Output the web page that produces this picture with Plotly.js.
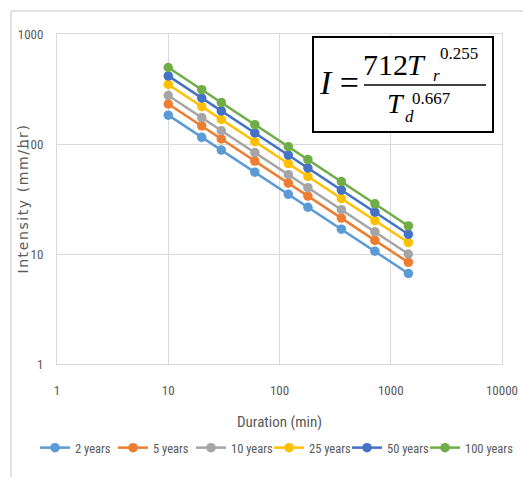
<!DOCTYPE html>
<html>
<head>
<meta charset="utf-8">
<script src="https://cdn.plot.ly/plotly-3.0.1.min.js"></script>
<style>
html,body{margin:0;padding:0;background:#fff}
#chart{width:523px;height:477px}
g.annotation[data-index="0"] text{letter-spacing:1.6px}
.legend .scrollbox{clip-path:none !important}
</style>
</head>
<body>
<div id="chart"></div>
<script>
var durations = [10, 20, 30, 60, 120, 180, 360, 720, 1440];
var seriesNames = ["2 years", "5 years", "10 years", "25 years", "50 years", "100 years"];
var y2 = [183, 115, 88, 55.4, 34.9, 26.6, 16.8, 10.6, 6.65];
var y5 = [231, 146, 111, 69.9, 44.1, 33.6, 21.2, 13.3, 8.4];
var y10 = [276, 174, 132, 83.5, 52.6, 40.1, 25.3, 15.9, 10.0];
var y25 = [348, 219, 167, 105, 66.4, 50.7, 31.9, 20.1, 12.7];
var y50 = [416, 262, 200, 126, 79.3, 60.5, 38.1, 24.0, 15.1];
var y100 = [496, 312, 238, 150, 94.6, 72.2, 45.5, 28.6, 18.0];
var xTickVals = [1, 10, 100, 1000, 10000];
var xTickText = ["1", "10", "100", "1000", "10000"];
var yTickVals = [1, 10, 100, 1000];
var yTickText = ["1", "10", "100", "1000"];

var colors = ["#5B9BD5", "#ED7D31", "#A5A5A5", "#FFC000", "#4472C4", "#70AD47"];
var allY = [y2, y5, y10, y25, y50, y100];
var FONT = "Roboto Condensed, Liberation Sans Narrow, Arial Narrow, Roboto, sans-serif";
var SERIF = "Liberation Serif, DejaVu Serif, serif";

var traces = allY.map(function (ys, i) {
  return {
    type: "scatter", mode: "lines+markers", name: seriesNames[i],
    x: durations, y: ys,
    line: {color: colors[i], width: 2.5},
    marker: {color: colors[i], size: 9.5, symbol: "circle"}
  };
});

var L = 57, T = 34, W = 445, H = 330;
function px(x) { return (x - L) / W; }
function py(y) { return 1 - (y - T) / H; }

var layout = {
  width: 523, height: 477,
  margin: {l: L, r: 523 - L - W, t: T, b: 477 - T - H, pad: 0},
  paper_bgcolor: "#fff", plot_bgcolor: "#fff",
  showlegend: true,
  legend: {orientation: "h", x: px(35), xanchor: "left", y: py(448), yanchor: "middle",
    font: {family: FONT, size: 12.5, color: "#595959"}, itemwidth: 30,
    entrywidth: 33, entrywidthmode: "pixels", tracegroupgap: 0},
  xaxis: {type: "log", range: [0, 4], tickvals: xTickVals, ticktext: xTickText,
    showgrid: true, gridcolor: "#D9D9D9", gridwidth: 1,
    showline: true, mirror: true, linecolor: "#D9D9D9", linewidth: 1,
    zeroline: false, ticks: "", ticklabelstandoff: 14,
    tickfont: {family: FONT, size: 13, color: "#595959"},
    title: {text: "Duration (min)", font: {family: FONT, size: 15, color: "#595959"}, standoff: 19},
    automargin: false},
  yaxis: {type: "log", range: [0, 3], tickvals: yTickVals, ticktext: yTickText,
    showgrid: true, gridcolor: "#D9D9D9", gridwidth: 1,
    showline: true, mirror: true, linecolor: "#D9D9D9", linewidth: 1,
    zeroline: false, ticks: "", ticklabelstandoff: 10,
    tickfont: {family: FONT, size: 13, color: "#595959"},
    automargin: false},
  shapes: [
    {type: "line", xref: "paper", yref: "paper", x0: px(11), x1: px(11), y0: py(11), y1: py(480), line: {color: "#D9D9D9", width: 1.5}},
    {type: "line", xref: "paper", yref: "paper", x0: px(11), x1: px(530), y0: py(11), y1: py(11), line: {color: "#D9D9D9", width: 1.5}},
    {type: "rect", xref: "paper", yref: "paper", x0: px(313), x1: px(493), y0: py(132), y1: py(37), fillcolor: "#fff", line: {color: "#000", width: 2}, layer: "above"},
    {type: "line", xref: "paper", yref: "paper", x0: px(364), x1: px(486), y0: py(85), y1: py(85), line: {color: "#000", width: 1.5}, layer: "above"}
  ],
  annotations: [
    {xref: "paper", yref: "paper", x: px(23), y: py(199), text: "Intensity (mm/hr)", textangle: -90, showarrow: false,
      font: {family: "DejaVu Sans, sans-serif", size: 14, color: "#595959"}, xanchor: "center", yanchor: "middle"},
    {xref: "paper", yref: "paper", x: px(317), y: py(83), text: "<i>I</i> =", showarrow: false,
      font: {family: SERIF, size: 34, color: "#000"}, xanchor: "left", yanchor: "middle"},
    {xref: "paper", yref: "paper", x: px(361), y: py(64), text: "712", showarrow: false,
      font: {family: SERIF, size: 30, color: "#000"}, xanchor: "left", yanchor: "middle"},
    {xref: "paper", yref: "paper", x: px(405), y: py(64), text: "<i>T</i>", showarrow: false,
      font: {family: SERIF, size: 30, color: "#000"}, xanchor: "left", yanchor: "middle"},
    {xref: "paper", yref: "paper", x: px(438), y: py(54), text: "0.255", showarrow: false,
      font: {family: SERIF, size: 17, color: "#000"}, xanchor: "left", yanchor: "middle"},
    {xref: "paper", yref: "paper", x: px(431), y: py(76), text: "<i>r</i>", showarrow: false,
      font: {family: SERIF, size: 17, color: "#000"}, xanchor: "left", yanchor: "middle"},
    {xref: "paper", yref: "paper", x: px(385), y: py(103), text: "<i>T</i>", showarrow: false,
      font: {family: SERIF, size: 28, color: "#000"}, xanchor: "left", yanchor: "middle"},
    {xref: "paper", yref: "paper", x: px(410), y: py(98), text: "0.667", showarrow: false,
      font: {family: SERIF, size: 17, color: "#000"}, xanchor: "left", yanchor: "middle"},
    {xref: "paper", yref: "paper", x: px(403), y: py(116), text: "<i>d</i>", showarrow: false,
      font: {family: SERIF, size: 17, color: "#000"}, xanchor: "left", yanchor: "middle"}
  ]
};

Plotly.newPlot("chart", traces, layout, {displayModeBar: false, staticPlot: true});
</script>
</body>
</html>
